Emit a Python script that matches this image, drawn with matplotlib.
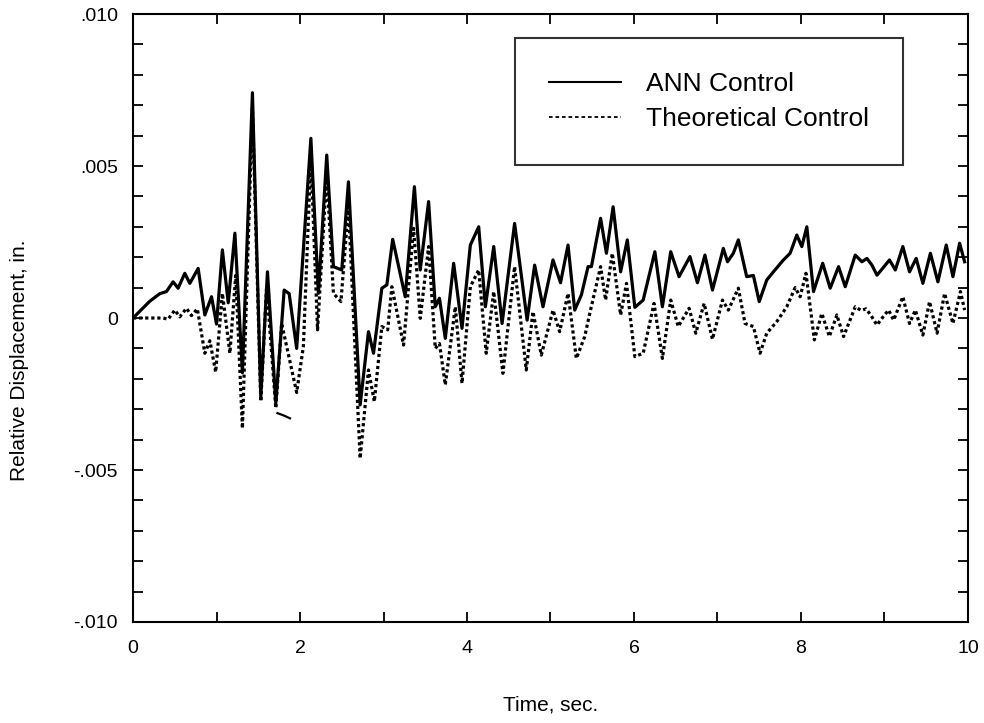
import matplotlib
matplotlib.use('Agg')
import matplotlib.pyplot as plt
import matplotlib as mpl
from matplotlib.lines import Line2D
from matplotlib.ticker import MultipleLocator

mpl.rcParams.update(
    {
        "font.family": ["Liberation Sans", "DejaVu Sans"],
        "font.size": 14,
        "axes.linewidth": 1.5,
        "xtick.direction": "in",
        "ytick.direction": "in",
    }
)

# displacement values, in units of 0.001 in.
ann_time = [
    0.00, 0.20, 0.32, 0.40, 0.48, 0.54, 0.62, 0.68, 0.78, 0.86, 0.94, 1.00,
    1.07, 1.14, 1.22, 1.31, 1.43, 1.53, 1.61, 1.71, 1.81, 1.87, 1.96, 2.13,
    2.22, 2.32, 2.40, 2.50, 2.58, 2.72, 2.82, 2.88, 2.98, 3.04, 3.11, 3.26,
    3.37, 3.44, 3.54, 3.62, 3.67, 3.74, 3.84, 3.94, 4.04, 4.14, 4.22, 4.32,
    4.42, 4.57, 4.72, 4.81, 4.91, 5.03, 5.12, 5.21, 5.29, 5.37, 5.45, 5.49,
    5.60, 5.67, 5.75, 5.84, 5.92, 6.01, 6.11, 6.25, 6.34, 6.44, 6.54, 6.67,
    6.76, 6.85, 6.94, 7.07, 7.12, 7.19, 7.25, 7.35, 7.43, 7.50, 7.59, 7.67,
    7.79, 7.87, 7.95, 8.01, 8.07, 8.15, 8.26, 8.35, 8.45, 8.53, 8.65, 8.73,
    8.79, 8.85, 8.91, 8.98, 9.06, 9.13, 9.22, 9.30, 9.38, 9.46, 9.55, 9.64,
    9.74, 9.82, 9.90, 9.96,
]
ann_disp = [
    0.00, 0.55, 0.80, 0.87, 1.19, 0.98, 1.47, 1.14, 1.63, 0.10, 0.70, -0.20,
    2.24, 0.50, 2.79, -1.80, 7.41, -2.60, 1.52, -2.80, 0.92, 0.80, -1.00, 5.91,
    0.81, 5.36, 1.69, 1.58, 4.48, -2.86, -0.45, -1.16, 0.98, 1.09, 2.59, 0.70,
    4.32, 1.58, 3.83, 0.37, 0.65, -0.67, 1.80, -0.34, 2.40, 3.00, 0.37, 2.35,
    -0.18, 3.11, -0.07, 1.74, 0.37, 1.91, 1.16, 2.40, 0.26, 0.76, 1.69, 1.69,
    3.28, 2.13, 3.66, 1.52, 2.57, 0.35, 0.59, 2.18, 0.37, 2.18, 1.36, 2.02,
    1.16, 2.07, 0.92, 2.29, 1.85, 2.13, 2.57, 1.36, 1.40, 0.54, 1.25, 1.52,
    1.91, 2.13, 2.73, 2.35, 3.00, 0.87, 1.80, 0.98, 1.69, 1.03, 2.07, 1.85,
    1.96, 1.74, 1.41, 1.64, 1.91, 1.58, 2.35, 1.52, 1.96, 1.14, 2.13, 1.19,
    2.40, 1.36, 2.46, 1.85,
]

theo_time = [
    0.00, 0.28, 0.36, 0.42, 0.50, 0.56, 0.64, 0.70, 0.77, 0.86, 0.92, 0.99,
    1.07, 1.16, 1.23, 1.31, 1.43, 1.53, 1.60, 1.71, 1.78, 1.96, 2.04, 2.13,
    2.21, 2.32, 2.40, 2.49, 2.58, 2.72, 2.82, 2.89, 2.98, 3.05, 3.10, 3.24,
    3.36, 3.44, 3.54, 3.62, 3.67, 3.74, 3.86, 3.94, 4.04, 4.14, 4.23, 4.32,
    4.43, 4.57, 4.71, 4.79, 4.89, 5.03, 5.11, 5.21, 5.31, 5.41, 5.47, 5.60,
    5.66, 5.74, 5.84, 5.91, 6.01, 6.11, 6.24, 6.34, 6.44, 6.53, 6.66, 6.74,
    6.84, 6.94, 7.06, 7.13, 7.25, 7.33, 7.43, 7.51, 7.59, 7.71, 7.83, 7.93,
    7.99, 8.06, 8.16, 8.25, 8.34, 8.43, 8.51, 8.65, 8.72, 8.78, 8.84, 8.91,
    9.00, 9.05, 9.11, 9.22, 9.30, 9.37, 9.46, 9.54, 9.63, 9.72, 9.82, 9.91,
    9.96,
]
theo_disp = [
    0.00, 0.00, 0.00, -0.04, 0.26, 0.04, 0.32, 0.08, 0.30, -1.16, -0.75, -1.78,
    0.81, -1.16, 1.40, -3.63, 6.90, -2.75, 1.03, -2.97, -0.18, -2.45, -0.94, 5.31,
    -0.39, 4.76, 0.81, 0.54, 3.66, -4.62, -1.71, -2.75, -0.28, -0.39, 1.03, -0.89,
    2.95, -0.01, 2.35, -1.00, -0.84, -2.20, 0.37, -2.15, 1.03, 1.58, -1.16, 0.87,
    -1.82, 1.69, -1.71, 0.21, -1.22, 0.26, -0.45, 0.81, -1.33, -0.61, 0.15, 1.69,
    0.59, 2.13, 0.10, 1.14, -1.27, -1.16, 0.48, -1.33, 0.59, -0.28, 0.32, -0.50,
    0.48, -0.70, 0.59, 0.26, 0.98, -0.18, -0.28, -1.16, -0.50, -0.12, 0.37, 1.00,
    0.70, 1.47, -0.72, 0.15, -0.61, 0.10, -0.61, 0.37, 0.25, 0.30, 0.08, -0.23,
    0.10, 0.26, -0.07, 0.70, -0.18, 0.26, -0.56, 0.54, -0.50, 0.81, -0.18, 0.87,
    0.26,
]

# short stray trace under the dotted curve near t = 1.8 s
stray_time = [1.73, 1.80, 1.88]
stray_disp = [-3.13, -3.20, -3.30]

series_labels = ["ANN Control", "Theoretical Control"]
xtick_values = [0, 2, 4, 6, 8, 10]
xtick_labels = ["0", "2", "4", "6", "8", "10"]
ytick_values = [0.010, 0.005, 0.0, -0.005, -0.010]
ytick_labels = [".010", ".005", "0", "-.005", "-.010"]


def thousandths(values):
    return [v * 1e-3 for v in values]


def make_plot(save_path):
    fig = plt.figure(figsize=(9.84, 7.23), dpi=100)
    ax = fig.add_axes([0.1352, 0.1397, 0.8485, 0.8409])

    ax.plot(ann_time, thousandths(ann_disp), color="black", linewidth=2.3,
            solid_joinstyle="round", label=series_labels[0])
    ax.plot(theo_time, thousandths(theo_disp), color="black", linewidth=2.3,
            linestyle=(0, (1.0, 0.9)), label=series_labels[1])
    ax.plot(stray_time, thousandths(stray_disp), color="black", linewidth=1.6)

    ax.set_xlim(0, 10)
    ax.set_ylim(-0.010, 0.010)
    ax.set_xticks(xtick_values)
    ax.set_xticklabels(xtick_labels)
    ax.set_yticks(ytick_values)
    ax.set_yticklabels(ytick_labels)
    ax.xaxis.set_minor_locator(MultipleLocator(1))
    ax.yaxis.set_minor_locator(MultipleLocator(0.001))
    ax.tick_params(which="both", top=True, right=True, length=7, width=1.3)
    ax.tick_params(axis="x", which="major", pad=13)
    ax.tick_params(axis="y", which="major", pad=11)

    ax.set_xlabel("Time, sec.", fontsize=15, labelpad=28)
    ax.set_ylabel("Relative Displacement, in.", fontsize=15)
    ax.yaxis.set_label_coords(-0.125, 0.43)

    # legend handles use thinner strokes than the plotted curves
    handles = [
        Line2D([], [], color="black", linewidth=1.5),
        Line2D([], [], color="black", linewidth=1.3, linestyle=(0, (2.0, 1.6))),
    ]
    leg = ax.legend(
        handles,
        series_labels,
        loc="upper left",
        bbox_to_anchor=(0.4575, 0.9605),
        borderaxespad=0.0,
        frameon=True,
        fancybox=False,
        edgecolor="black",
        fontsize=19,
        handlelength=2.7,
        handletextpad=0.95,
        borderpad=1.3,
        labelspacing=0.4,
    )
    leg.get_frame().set_linewidth(1.5)

    fig.savefig(save_path, dpi=100)
    plt.close(fig)


if __name__ == "__main__":
    make_plot("out.png")
